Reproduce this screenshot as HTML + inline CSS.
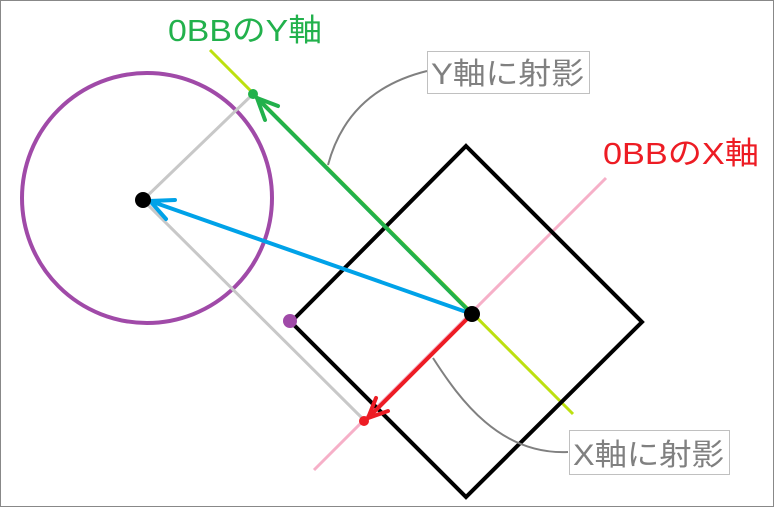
<!DOCTYPE html>
<html><head><meta charset="utf-8"><style>
html,body{margin:0;padding:0;background:#fff}
svg{display:block}
text{font-family:"Liberation Sans","Noto Sans CJK JP",sans-serif}
</style></head><body>
<svg width="774" height="507" viewBox="0 0 774 507">
<rect x="0.5" y="0.5" width="773" height="506" fill="#fff" stroke="#888" stroke-width="1"/>
<circle cx="147" cy="198" r="125" fill="none" stroke="#a04aa8" stroke-width="4"/>
<line x1="143" y1="200" x2="253" y2="94" stroke="#c8c8c8" stroke-width="3"/>
<line x1="143" y1="200" x2="364" y2="420" stroke="#c8c8c8" stroke-width="3"/>
<line x1="210" y1="50" x2="573" y2="414" stroke="#bde010" stroke-width="3"/>
<line x1="314" y1="470" x2="606" y2="178" stroke="#f6b0c8" stroke-width="3"/>
<polygon points="466,146 642,322 466,497 291,322" fill="none" stroke="#000" stroke-width="4"/>
<circle cx="290" cy="321" r="7" fill="#a04aa8"/>
<path d="M427,71 C370,85 340,120 328,165" fill="none" stroke="#808080" stroke-width="2"/>
<path d="M568,452 C500,455 460,400 433,358" fill="none" stroke="#808080" stroke-width="2"/>
<g stroke-linecap="round">
<line x1="472" y1="314" x2="150" y2="201" stroke="#00a2e8" stroke-width="4"/>
<polyline points="175,200 150,201 166,219" fill="none" stroke="#00a2e8" stroke-width="4"/>
<line x1="472" y1="314" x2="257" y2="98" stroke="#22b14c" stroke-width="4"/>
<polyline points="278,106 257,98 265,120" fill="none" stroke="#22b14c" stroke-width="4"/>
<line x1="472" y1="314" x2="368" y2="418" stroke="#ed1c24" stroke-width="4"/>
<polyline points="376,398 368,418 388,411" fill="none" stroke="#ed1c24" stroke-width="4"/>
</g>
<circle cx="143" cy="200" r="8" fill="#000"/>
<circle cx="472" cy="314" r="8" fill="#000"/>
<circle cx="253" cy="94" r="5" fill="#22b14c"/>
<circle cx="364" cy="421" r="5" fill="#ed1c24"/>
<text x="168" y="41" font-size="31" fill="#22b14c" textLength="154" lengthAdjust="spacingAndGlyphs">0BBのY軸</text>
<text x="603" y="164" font-size="31" fill="#ed1c24" textLength="156" lengthAdjust="spacingAndGlyphs">0BBのX軸</text>
<rect x="427.5" y="51.5" width="162" height="42" fill="#fff" stroke="#c0c0c0"/>
<text x="431" y="84" font-size="30" fill="#808080" textLength="153" lengthAdjust="spacingAndGlyphs">Y軸に射影</text>
<rect x="569.5" y="430.5" width="160" height="44" fill="#fff" stroke="#c0c0c0"/>
<text x="573" y="465" font-size="30" fill="#808080" textLength="151" lengthAdjust="spacingAndGlyphs">X軸に射影</text>
</svg>
</body></html>
